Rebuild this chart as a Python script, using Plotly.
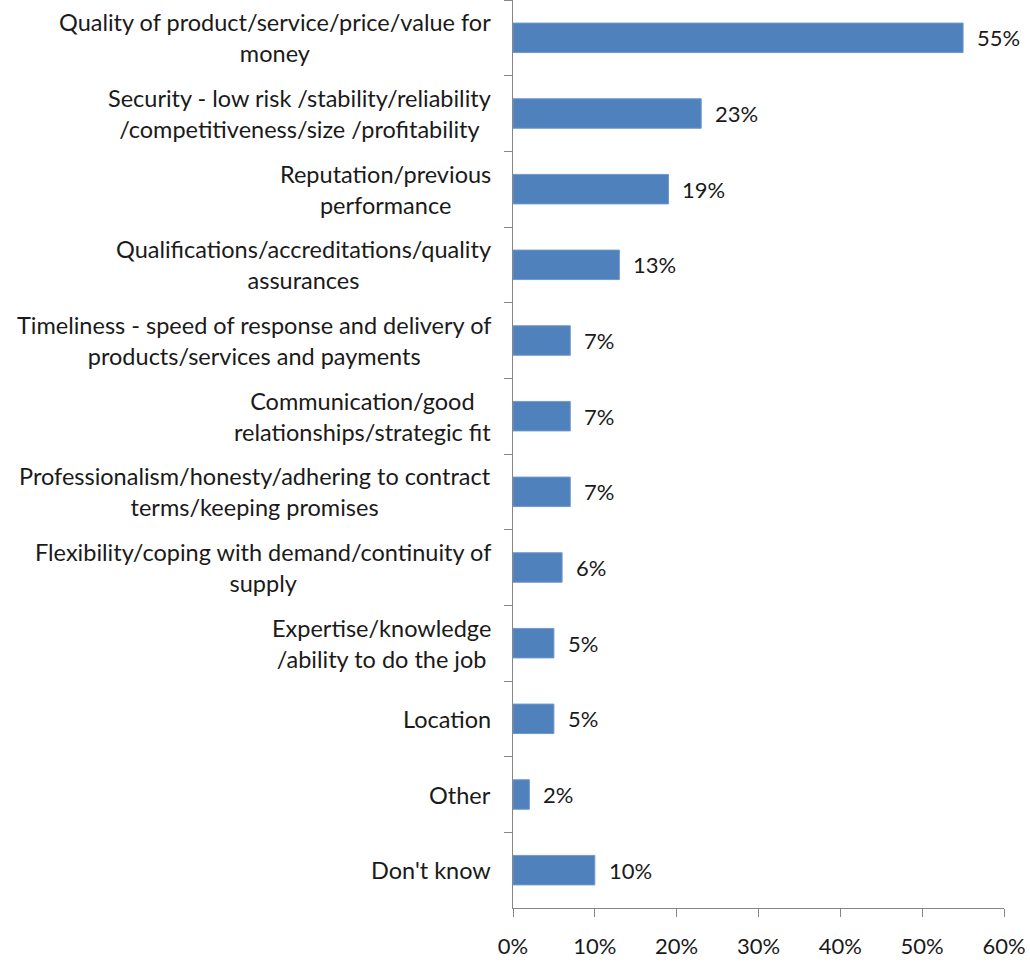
import plotly.graph_objects as go

categories = [
    "Quality of product/service/price/value for<br>money",
    "Security - low risk /stability/reliability<br>/competitiveness/size /profitability",
    "Reputation/previous<br>performance",
    "Qualifications/accreditations/quality<br>assurances",
    "Timeliness - speed of response and delivery of<br>products/services and payments",
    "Communication/good<br>relationships/strategic fit",
    "Professionalism/honesty/adhering to contract<br>terms/keeping promises",
    "Flexibility/coping with demand/continuity of<br>supply",
    "Expertise/knowledge<br>/ability to do the job",
    "Location",
    "Other",
    "Don't know",
]
values = [0.55, 0.23, 0.19, 0.13, 0.07, 0.07, 0.07, 0.06, 0.05, 0.05, 0.02, 0.10]
x_ticks = [0, 0.1, 0.2, 0.3, 0.4, 0.5, 0.6]

FONT = "Lato"
TEXT = "#1a1a1a"
AXIS = "#868686"
BAR = "#4F81BD"

fig = go.Figure(
    go.Bar(
        x=values,
        y=categories,
        orientation="h",
        width=0.39,
        marker=dict(color=BAR, line=dict(color="#6f98cc", width=1)),
        hoverinfo="skip",
    )
)

# value labels just to the right of each bar
for cat, val in zip(categories, values):
    fig.add_annotation(
        x=val, y=cat, xref="x", yref="y",
        text=f"{round(val * 100)}%",
        xanchor="left", yanchor="middle", xshift=12,
        showarrow=False,
        font=dict(family=FONT, size=22, color=TEXT),
    )

# category labels, lines centred on each other
for cat in categories:
    fig.add_annotation(
        x=0, y=cat, xref="paper", yref="y",
        text=cat, align="center",
        xanchor="right", yanchor="middle", xshift=-20,
        showarrow=False,
        font=dict(family=FONT, size=23.5, color=TEXT),
    )

fig.update_layout(
    width=1030, height=964,
    margin=dict(l=513, r=26, t=0, b=56),
    paper_bgcolor="white", plot_bgcolor="white",
    showlegend=False,
    font=dict(family=FONT, size=22, color=TEXT),
)
fig.update_xaxes(
    range=[0, 0.6], tickvals=x_ticks, tickformat=".0%",
    showline=True, linecolor=AXIS, linewidth=1,
    ticks="outside", ticklen=8, tickcolor=AXIS,
    showgrid=False, zeroline=False,
    ticklabelstandoff=11,
    tickfont=dict(family=FONT, size=22, color=TEXT),
)
fig.update_yaxes(
    autorange="reversed", type="category",
    showline=True, linecolor=AXIS, linewidth=1,
    ticks="outside", ticklen=8, tickcolor=AXIS,
    tickson="boundaries", showticklabels=False,
    showgrid=False, zeroline=False,
)

fig.write_html("out.html")
